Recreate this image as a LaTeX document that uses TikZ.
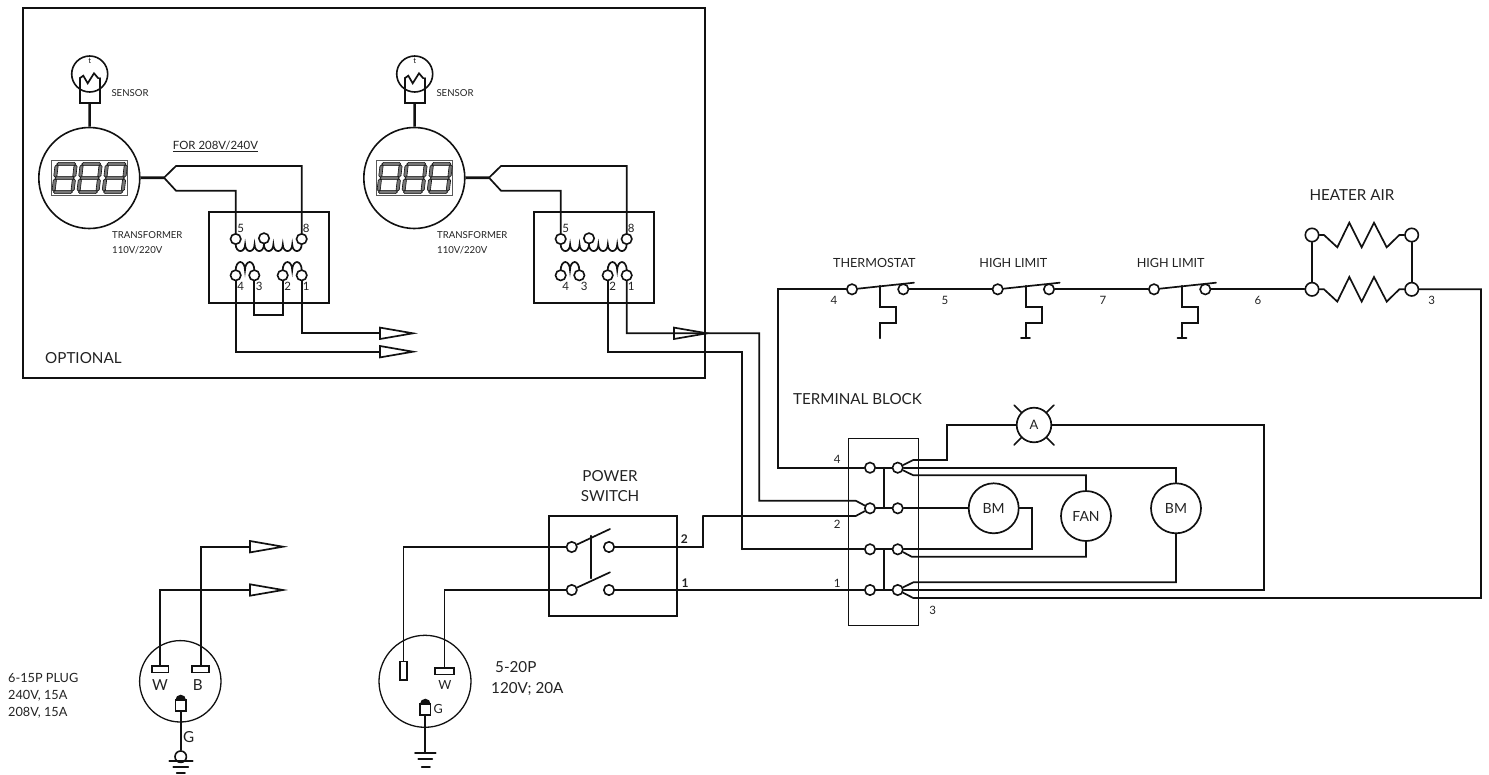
\documentclass[tikz,border=0pt]{standalone}
\usepackage{fontspec}
\setmainfont{Lato}
\usetikzlibrary{positioning,calc}
\definecolor{wireblack}{HTML}{111111}
\definecolor{textgray}{HTML}{222222}
\definecolor{seggray}{HTML}{777777}
\tikzset{
  wire/.style={draw=wireblack, line width=1.7pt, line cap=round, line join=miter},
  thickwire/.style={draw=wireblack, line width=2.6pt},
  term/.style={circle, draw=wireblack, fill=white, line width=1.6pt, inner sep=0pt, minimum size=10.4pt},
  bigterm/.style={term, minimum size=13.4pt},
  motor/.style={circle, draw=wireblack, line width=1.7pt, inner sep=0pt, minimum size=50pt, font=\fontsize{14}{16}\selectfont, text=textgray},
  lab/.style={font=\fontsize{15.2}{17}\selectfont, text=textgray, inner sep=0pt},
  midlab/.style={font=\fontsize{12.6}{15}\selectfont, text=textgray, inner sep=0pt},
  smlab/.style={font=\fontsize{9.6}{15}\selectfont, text=textgray, inner sep=0pt},
  numlab/.style={font=\fontsize{11.5}{13}\selectfont, text=textgray, inner sep=0pt},
  triarrow/.pic={\draw[wire] (0,-5.7) -- (33,0) -- (0,5.7) -- cycle;},
  gndpin/.pic={
    \fill[wireblack] (-5.3,-5.5) arc[start angle=180, end angle=0, radius=5.3pt] -- cycle;
    \draw[wire, fill=white] (-5.3,-5.5) rectangle (5.3,5.5);},
  segdigit/.pic={
    \begin{scope}[xslant=0.12]
      \foreach \sy in {-14,0,14}
        \draw[wireblack, fill=seggray, line width=0.6pt] (-9.5,\sy) -- (-7.9,\sy-1.6) -- (7.9,\sy-1.6) -- (9.5,\sy) -- (7.9,\sy+1.6) -- (-7.9,\sy+1.6) -- cycle;
      \foreach \sx/\sy in {-9.5/-7, 9.5/-7, -9.5/7, 9.5/7}
        \draw[wireblack, fill=seggray, line width=0.6pt] (\sx,\sy-6.2) -- (\sx+1.6,\sy-4.6) -- (\sx+1.6,\sy+4.6) -- (\sx,\sy+6.2) -- (\sx-1.6,\sy+4.6) -- (\sx-1.6,\sy-4.6) -- cycle;
    \end{scope}},
}

\begin{document}
\begin{tikzpicture}[x=1pt, y=-1pt]
  \useasboundingbox (0,0) rectangle (1489,774);

  % ---- Optional box ----
  \draw[wire] (23,8) rectangle (705,378);
  \node[lab, anchor=west] (optlab) at (45,358) {OPTIONAL};

  % ---- Sensor, display and transformer groups ----
  \foreach \gp/\dx in {a/0, b/325} {
    \begin{scope}[xshift=\dx pt]
      % sensor
      \node[circle, draw=wireblack, line width=1.6pt, minimum size=36pt, inner sep=0pt] (sns\gp) at (89.7,74) {};
      \node[font=\fontsize{8}{9}\selectfont, text=textgray, inner sep=0pt] (snt\gp) at (89.7,61) {t};
      \coordinate (snb\gp) at (89.7,103);
      \draw[wire] (79.7,78) -- (79.7,103) -- (100,103) -- (100,78);
      \draw[wire] (79.7,78.3) -- (83.3,75.7) -- (87.7,83.3) -- (94,73.3) -- (98.3,78.3);
      \node[smlab] (snl\gp) at (130,93.3) {SENSOR};

      % display
      \node[circle, draw=wireblack, line width=1.6pt, minimum size=101pt, inner sep=0pt] (dsp\gp) at (89.3,178) {};
      \draw[draw=black!65, line width=1pt, fill=white] (51.7,160) rectangle (127.3,195.7);
      \foreach \px in {64.6, 89.6, 114.8}
        \pic at (\px,178) {segdigit};
      \draw[thickwire] (snb\gp) -- (dsp\gp);
      \coordinate (fk0\gp) at (164,177.7);
      \coordinate (fku\gp) at (176,166);
      \coordinate (fkl\gp) at (176,190.7);
      \draw[thickwire] (dsp\gp) -- (fk0\gp);

      % transformer
      \draw[wire] (208.7,211.7) rectangle (328.7,303.3);
      \draw[wire] (235.7,244.5) \foreach \k in {1,...,7} {arc[start angle=180, end angle=360, x radius=4.71pt, y radius=6.6pt]};
      \draw[wire] (235.7,270) arc[start angle=180, end angle=0, x radius=4.65pt, y radius=8pt] arc[start angle=180, end angle=0, x radius=4.65pt, y radius=8pt];
      \draw[wire] (282.7,270) arc[start angle=180, end angle=0, x radius=4.75pt, y radius=8pt] arc[start angle=180, end angle=0, x radius=4.75pt, y radius=8pt];
      \node[term] (t5\gp) at (235.7,239) {};
      \node[term] (t0\gp) at (264,238.3) {};
      \node[term] (t8\gp) at (301.7,239) {};
      \node[term] (t4\gp) at (235.7,275.3) {};
      \node[term] (t3\gp) at (254.3,275.3) {};
      \node[term] (t2\gp) at (282.7,275.3) {};
      \node[term] (t1\gp) at (301.7,275.3) {};
      \draw[wire] (fk0\gp) -- (fku\gp) -| (t8\gp);
      \draw[wire] (fk0\gp) -- (fkl\gp) -| (t5\gp);
      \node[numlab] (n5\gp) at (240.7,228) {5};
      \node[numlab] (n8\gp) at (306.3,228) {8};
      \node[numlab] (n4\gp) at (240.7,286.7) {4};
      \node[numlab] (n3\gp) at (259.3,286.7) {3};
      \node[numlab] (n2\gp) at (287.7,286.7) {2};
      \node[numlab] (n1\gp) at (306.3,286.7) {1};
      \node[smlab, anchor=west, align=left] (trl\gp) at (112,242.5) {TRANSFORMER\\110V/220V};
    \end{scope}
  }
  \node[midlab, font=\fontsize{11.4}{14}\selectfont] (forlab) at (215.5,146.5) {\underline{FOR 208V/240V}};

  % ---- Transformer outputs ----
  \coordinate (arra) at (380,333.3);
  \coordinate (arrb) at (380,351.7);
  \coordinate (arrc) at (674,333.3);
  \pic at (arra) {triarrow};
  \pic at (arrb) {triarrow};
  \pic at (arrc) {triarrow};
  \draw[wire] (t1a) |- (arra);
  \draw[wire] (t4a) |- (arrb);
  \draw[wire] (t3a) |- (282.7,315) -- (t2a);
  \draw[wire] (t1b) |- (759.3,333.3) -- (759.3,500.7) -- (855.7,500.7) -- (870,508.3);
  \draw[wire] (t2b) |- (741.7,351.7) -- (741.7,549.3);

  % ---- Thermostat and high limits ----
  \foreach \lm/\dx in {th/0, la/145.7, lb/302} {
    \begin{scope}[xshift=\dx pt]
      \node[term] (swa\lm) at (852,289.3) {};
      \node[term] (swb\lm) at (903.3,289.3) {};
      \draw[wire] (swa\lm) -- (914,282.7);
      \draw[wire] (880,285.8) -- (880,306.7) -- (896,306.7) -- (896,322.7) -- (880,322.7) -- (880,338.3);
    \end{scope}
  }
  \draw[wire] (1021,338.3) -- (1030,338.3);
  \draw[wire] (1177.5,338.3) -- (1186.5,338.3);
  \node[midlab] (thlab) at (874.3,263.3) {THERMOSTAT};
  \node[midlab] (hlalab) at (1013.3,263.3) {HIGH LIMIT};
  \node[midlab] (hlblab) at (1170.7,263.3) {HIGH LIMIT};

  % ---- Heater air ----
  \node[bigterm] (hta) at (1312,235) {};
  \node[bigterm] (htb) at (1411.7,235) {};
  \node[bigterm] (htc) at (1312,289.3) {};
  \node[bigterm] (htd) at (1411.7,289.3) {};
  \draw[wire] (hta) -- (htc);
  \draw[wire] (htb) -- (htd);
  \draw[wire] (hta) -- ++(12,0) -- ++(13.3,12.3) -- ++(12,-24.6) -- ++(12.4,24.6) -- ++(12.3,-24.6) -- ++(12.7,24.6) -- ++(12.6,-12.3) -- (htb);
  \draw[wire] (htc) -- ++(12,0) -- ++(13.3,12.3) -- ++(12,-24.6) -- ++(12.4,24.6) -- ++(12.3,-24.6) -- ++(12.7,24.6) -- ++(12.6,-12.3) -- (htd);
  \node[lab] (htlab) at (1352,195) {HEATER AIR};

  % ---- Top row wires ----
  \draw[wire] (swbth) -- (swala);
  \draw[wire] (swbla) -- (swalb);
  \draw[wire] (swblb) -- (htc);
  \node[numlab] (w4) at (834,300) {4};
  \node[numlab] (w5) at (945,300) {5};
  \node[numlab] (w7) at (1103,300) {7};
  \node[numlab] (w6) at (1258,300) {6};
  \node[numlab] (w3) at (1431.7,300) {3};

  % ---- Terminal block ----
  \draw[draw=wireblack, line width=0.9pt] (848.7,438.7) rectangle (918.7,625.7);
  \node[lab] (tblab) at (857.5,399) {TERMINAL BLOCK};
  \foreach \rw/\ry in {1/467.7, 2/508.3, 3/549.3, 4/590} {
    \node[term] (tba\rw) at (870,\ry) {};
    \node[term] (tbb\rw) at (897.7,\ry) {};
    \draw[wire] (tba\rw) -- (tbb\rw);
  }
  \draw[wire] (884,467.7) -- (884,508.3);
  \draw[wire] (884,549.3) -- (884,590);
  \node[numlab] (tn4) at (837.3,459) {4};
  \node[numlab] (tn2) at (837.3,524) {2};
  \node[numlab] (tn1) at (837.3,583) {1};
  \node[numlab] (tn3) at (932.7,610.7) {3};

  % ---- Loads ----
  \node[circle, draw=wireblack, line width=1.7pt, minimum size=34.6pt, inner sep=0pt, font=\fontsize{13}{15}\selectfont, text=textgray] (amt) at (1034,425) {A};
  \node[motor] (bma) at (993.7,508.3) {BM};
  \node[motor] (fan) at (1086,516) {FAN};
  \node[motor] (bmb) at (1176,508.3) {BM};
  \foreach \ang in {45,135,225,315}
    \draw[wire] (amt.\ang) -- ++(\ang:10pt);

  % ---- Terminal block wiring ----
  \draw[wire] (swath) -| (777.7,467.7) -- (tba1);
  \draw[wire] (tbb1) -- (913.3,460) -- (947,460) |- (amt);
  \draw[wire] (tbb1) -| (bmb);
  \draw[wire] (tbb1) -- (913.3,475.3) -| (fan);
  \draw[wire] (tbb2) -- (bma);
  \draw[wire] (bma) -- (1031.7,508.3) |- (tbb3);
  \draw[wire] (fan) |- (911.7,556.7) -- (tbb3);
  \draw[wire] (bmb) |- (913.3,582.3) -- (tbb4);
  \draw[wire] (amt) -| (1264.3,590) -- (tbb4);
  \draw[wire] (tbb4) -- (913.3,598) -- (1481,598) |- (htd);
  \draw[wire] (741.7,549.3) -- (tba3);
  \draw[wire] (703,516) -- (855.7,516) -- (tba2);

  % ---- Power switch ----
  \draw[wire] (549.3,516) rectangle (676.7,616.3);
  \node[term] (psa) at (571.7,547) {};
  \node[term] (psb) at (609,547) {};
  \node[term] (psc) at (571.7,590) {};
  \node[term] (psd) at (609,590) {};
  \draw[wire] (psa) -- (610,529);
  \draw[wire] (psc) -- (610,572.3);
  \draw[wire] (591,535.7) -- (591,578.3);
  \draw[wire] (psb) -- (703,547) -- (703,516);
  \draw[wire] (psd) -- (tba4);
  \node[lab, align=center] (pslab) at (610,486.5) {POWER\\[3pt]SWITCH};
  \node[numlab, font=\fontsize{12}{14}\bfseries] (ps2) at (684.3,539) {2};
  \node[numlab, font=\fontsize{12}{14}\bfseries] (ps1) at (685,583.3) {1};

  % ---- 5-20P plug ----
  \node[circle, draw=wireblack, line width=1.3pt, minimum size=92pt, inner sep=0pt] (pga) at (425,681.3) {};
  \node[draw=wireblack, line width=1.6pt, fill=white, minimum width=7pt, minimum height=18.3pt, inner sep=0pt] (pgan) at (403.5,670.8) {};
  \node[draw=wireblack, line width=1.6pt, fill=white, minimum width=19pt, minimum height=6.6pt, inner sep=0pt] (pgaw) at (444.5,671) {};
  \draw[wire] (psa) -| (pgan);
  \draw[wire] (psc) -| (444.5,667.7);
  \pic at (425.3,709.5) {gndpin};
  \coordinate (gda) at (425,752.7);
  \draw[wire] (425,715) -- (gda);
  \draw[wire] (415,752.7) -- (435.7,752.7);
  \draw[wire] (418.3,759.3) -- (432.3,759.3);
  \draw[wire] (421.7,766.7) -- (430,766.7);
  \node[midlab] (pawl) at (445,685) {W};
  \node[midlab] (pagl) at (438.3,708.5) {G};
  \node[lab, anchor=west] (palab) at (495,666.7) {5-20P};
  \node[lab, anchor=west] (pblab) at (491,689) {120V; 20A};

  % ---- 6-15P plug ----
  \node[circle, draw=wireblack, line width=1.3pt, minimum size=81.4pt, inner sep=0pt] (pgb) at (180.3,681.3) {};
  \node[draw=wireblack, line width=1.6pt, fill=white, minimum width=16.6pt, minimum height=6.3pt, inner sep=0pt] (pgbw) at (160,669.2) {};
  \node[draw=wireblack, line width=1.6pt, fill=white, minimum width=17pt, minimum height=6.3pt, inner sep=0pt] (pgbb) at (200.7,669.2) {};
  \coordinate (arrd) at (250,546.7);
  \coordinate (arre) at (250,590);
  \pic at (arrd) {triarrow};
  \pic at (arre) {triarrow};
  \draw[wire] (pgbw) |- (arre);
  \draw[wire] (pgbb) |- (arrd);
  \pic at (180.7,705.5) {gndpin};
  \node[term, minimum size=11.4pt] (gdb) at (180.7,756.7) {};
  \draw[wire] (180.7,711) -- (gdb);
  \draw[wire] (169.3,761) -- (192.7,761);
  \draw[wire] (173.3,767.3) -- (188.3,767.3);
  \draw[wire] (176.7,773) -- (185,773);
  \node[lab] (pbwl) at (160,685) {W};
  \node[lab] (pbbl) at (197.7,685) {B};
  \node[lab] (pbgl) at (188.7,737.3) {G};
  \node[midlab, anchor=west, align=left, font=\fontsize{12.7}{17.2}\selectfont] (pbtxt) at (8,696) {6-15P PLUG\\240V, 15A\\208V, 15A};
\end{tikzpicture}
\end{document}
